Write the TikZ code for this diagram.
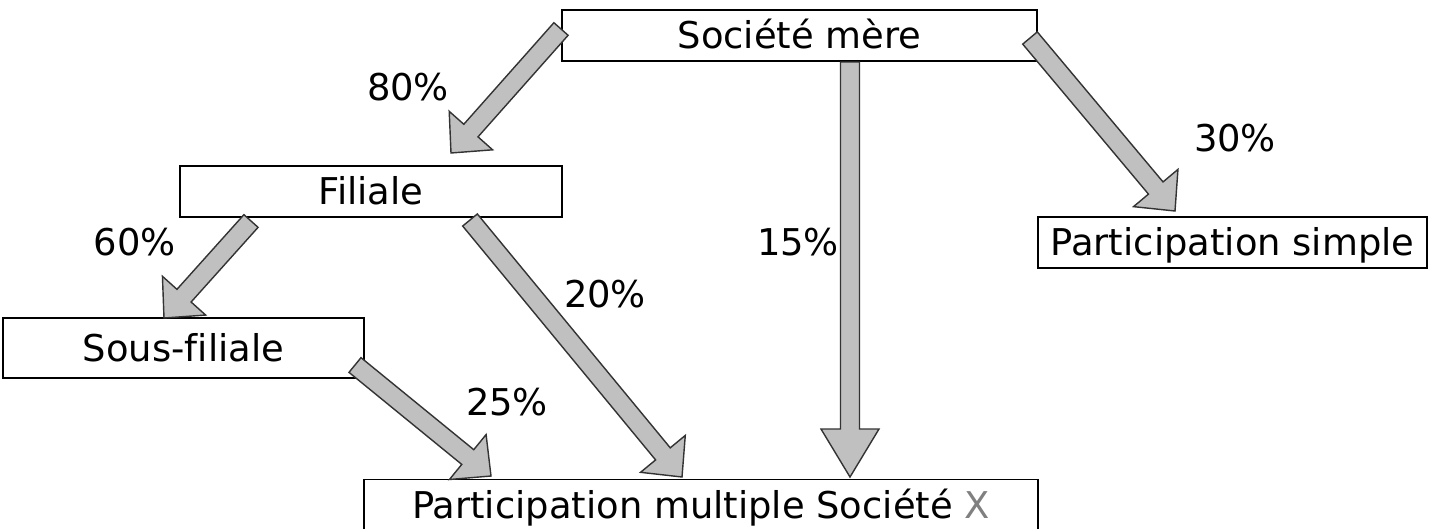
\documentclass[tikz,border=0pt]{standalone}
\usepackage{fontspec}
\setmainfont{DejaVu Sans}[Ligatures=NoCommon]
\usetikzlibrary{positioning,calc}

\definecolor{grisfleche}{HTML}{C0C0C0}

% block arrow: [head length]{tail}{tip}
\newcommand{\fleche}[3][0.6cm]{%
	\coordinate (h) at ($(#3)!#1!(#2)$);
	\filldraw[fleche] ($(#2)!0.19cm!90:(#3)$) -- ($(h)!0.19cm!90:(#3)$) -- ($(h)!0.58cm!90:(#3)$)
		-- (#3) -- ($(h)!0.58cm!-90:(#3)$) -- ($(h)!0.19cm!-90:(#3)$) -- ($(#2)!0.19cm!-90:(#3)$) -- cycle;
}

\begin{document}
\begin{tikzpicture}[%
		x=0.02cm,
		y=-0.02cm,
		font=\fontsize{21}{25}\selectfont,
		boite/.style={%
			draw,
			fill=white,
			line width=1pt,
			inner sep=0pt,
			text height=15.3pt,
			text depth=0pt,
			minimum height=1.02cm
		},
		fleche/.style={%
			fill=grisfleche,
			draw=black!80,
			line width=0.8pt,
			line join=miter
		},
		pct/.style={%
			inner sep=0pt,
			text height=15.3pt,
			text depth=0pt
		}
		]
		\useasboundingbox (0,0) rectangle (1433,528);
		
		\node[boite, minimum width=9.5cm] (mere)          at (799.5,35.5)  {Société mère};
		\node[boite, minimum width=7.64cm] (filiale)      at (371,191.5)   {Filiale};
		\node[boite, minimum width=7.22cm, minimum height=1.2cm] (sousfil) at (183.5,348) {Sous-filiale};
		\node[boite, minimum width=7.78cm] (simple)       at (1232.5,242.5) {Participation simple};
		\node[boite, minimum width=13.48cm] (multiple)    at (701,505)     {Participation multiple Société {\color{gray}X}};
		
		% tails and tips
		\coordinate (q80) at (561,29);   \coordinate (p80) at (451,153);
		\coordinate (q30) at (1030,38);  \coordinate (p30) at (1175,211);
		\coordinate (q15) at (850,62);   \coordinate (p15) at (850,477);
		\coordinate (q60) at (251,221);  \coordinate (p60) at (164,318);
		\coordinate (q20) at (470,220);  \coordinate (p20) at (682,477);
		\coordinate (q25) at (355,365);  \coordinate (p25) at (491,476);
		
		\fleche{q80}{p80}
		\fleche{q30}{p30}
		\fleche[0.96cm]{q15}{p15}
		\fleche{q60}{p60}
		\fleche{q20}{p20}
		\fleche{q25}{p25}
		
		\node[pct] (l80) at (408,87)  {80\%};
		\node[pct] (l30) at (1235,138) {30\%};
		\node[pct] (l15) at (798,242) {15\%};
		\node[pct] (l60) at (135,242) {60\%};
		\node[pct] (l20) at (605,294) {20\%};
		\node[pct] (l25) at (507,402) {25\%};
\end{tikzpicture}
\end{document}
